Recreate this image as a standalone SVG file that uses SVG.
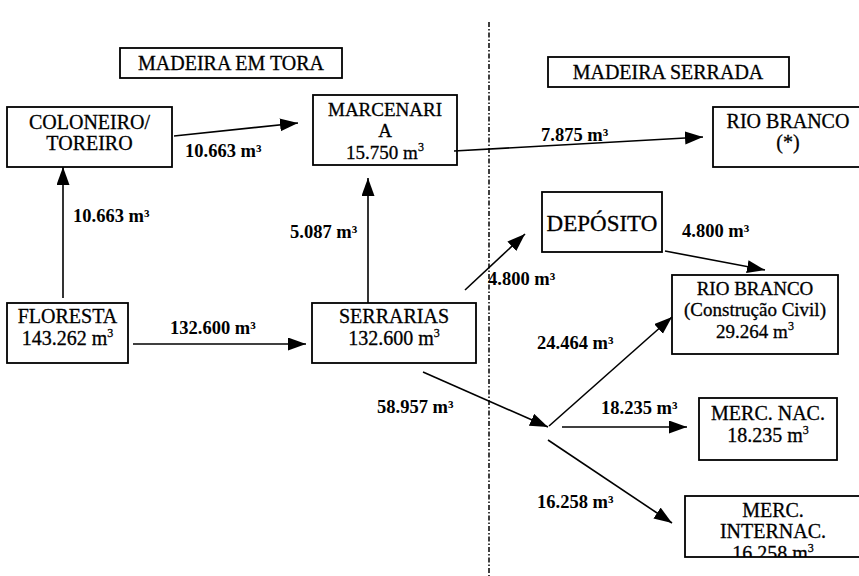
<svg xmlns="http://www.w3.org/2000/svg" width="859" height="576" viewBox="0 0 859 576">
<style>
.box{fill:#fff;stroke:#000;stroke-width:1.8}
.t{font-family:"Liberation Serif","Times New Roman",serif;font-size:20px;fill:#000;stroke:#000;stroke-width:0.3;text-anchor:middle}
.s19{font-size:19px}
.big{font-size:23px}
.lbl{font-family:"Liberation Serif","Times New Roman",serif;font-size:18.5px;font-weight:bold;fill:#000}
.sup{font-size:12px}
.c{stroke:#000;stroke-width:1.6;fill:none;marker-end:url(#ah)}
.div{stroke:#000;stroke-width:1.5;stroke-dasharray:5 2 1.5 2;fill:none}
</style>
<defs>
<marker id="ah" markerUnits="userSpaceOnUse" markerWidth="20" markerHeight="14" refX="18" refY="6.5" orient="auto">
<path d="M0,0 L18,6.5 L0,13 z" fill="#000"/>
</marker>
<clipPath id="clipInt"><rect x="680" y="490" width="179" height="67"/></clipPath>
</defs>
<rect width="859" height="576" fill="#fff"/>
<line class="div" x1="489" y1="22" x2="489" y2="576"/>
<g id="madeira-em-tora">
<rect class="box" x="120" y="48" width="222" height="30"/>
<text class="t" x="231" y="70">MADEIRA EM TORA</text>
</g>
<g id="madeira-serrada">
<rect class="box" x="548" y="57" width="241" height="30"/>
<text class="t" x="668" y="79">MADEIRA SERRADA</text>
</g>
<g id="coloneiro">
<rect class="box" x="7" y="107" width="165" height="60"/>
<text class="t" x="89.5" y="129">COLONEIRO/</text>
<text class="t" x="89.5" y="150">TOREIRO</text>
</g>
<g id="marcenaria">
<rect class="box" x="313" y="95" width="144" height="70"/>
<text class="t s19" x="385" y="116">MARCENARI</text>
<text class="t s19" x="385" y="137">A</text>
<text class="t s19" x="385" y="159">15.750 m<tspan class="sup" dy="-8">3</tspan></text>
</g>
<g id="rio-branco">
<rect class="box" x="713" y="107" width="150" height="60"/>
<text class="t" x="788" y="128">RIO BRANCO</text>
<text class="t" x="788" y="149">(*)</text>
</g>
<g id="floresta">
<rect class="box" x="7" y="303" width="121" height="60"/>
<text class="t" x="67.5" y="323">FLORESTA</text>
<text class="t" x="67.5" y="345">143.262 m<tspan class="sup" dy="-8">3</tspan></text>
</g>
<g id="serrarias">
<rect class="box" x="312" y="303" width="164" height="60"/>
<text class="t" x="394" y="323">SERRARIAS</text>
<text class="t" x="394" y="345">132.600 m<tspan class="sup" dy="-8">3</tspan></text>
</g>
<g id="deposito">
<rect class="box" x="542" y="192" width="120" height="60"/>
<text class="t big" x="602" y="231">DEPÓSITO</text>
</g>
<g id="rio-branco-cc">
<rect class="box" x="672" y="275" width="166" height="79"/>
<text class="t s19" x="755" y="295">RIO BRANCO</text>
<text class="t s19" x="755" y="316">(Construção Civil)</text>
<text class="t s19" x="755" y="338">29.264 m<tspan class="sup" dy="-8">3</tspan></text>
</g>
<g id="merc-nac">
<rect class="box" x="699" y="398" width="138" height="62"/>
<text class="t" x="768" y="420">MERC. NAC.</text>
<text class="t" x="768" y="442">18.235 m<tspan class="sup" dy="-8">3</tspan></text>
</g>
<g id="merc-internac">
<rect class="box" x="685" y="496" width="180" height="61"/>
<text class="t" x="773" y="517">MERC.</text>
<text class="t" x="773" y="538">INTERNAC.</text>
<text class="t" x="773" y="560" clip-path="url(#clipInt)">16.258 m<tspan class="sup" dy="-8">3</tspan></text>
</g>
<g id="connectors">
<line class="c" x1="174" y1="136" x2="298" y2="123"/>
<line class="c" x1="63" y1="298" x2="63" y2="167"/>
<line class="c" x1="454" y1="151" x2="703" y2="137"/>
<line class="c" x1="133" y1="344" x2="306" y2="344"/>
<line class="c" x1="368" y1="303" x2="368" y2="178"/>
<line class="c" x1="465" y1="290" x2="525" y2="234"/>
<line class="c" x1="665" y1="251" x2="765" y2="270"/>
<line class="c" x1="423" y1="372" x2="548" y2="427"/>
<line class="c" x1="549" y1="426" x2="672" y2="317"/>
<line class="c" x1="562" y1="427" x2="687" y2="427"/>
<line class="c" x1="548" y1="440" x2="672" y2="523"/>
</g>
<g id="labels">
<text class="lbl" x="185" y="157">10.663 m³</text>
<text class="lbl" x="73" y="222">10.663 m³</text>
<text class="lbl" x="290" y="238">5.087 m³</text>
<text class="lbl" x="541" y="141">7.875 m³</text>
<text class="lbl" x="170" y="334">132.600 m³</text>
<text class="lbl" x="682" y="237">4.800 m³</text>
<text class="lbl" x="488" y="285">4.800 m³</text>
<text class="lbl" x="537" y="349">24.464 m³</text>
<text class="lbl" x="377" y="413">58.957 m³</text>
<text class="lbl" x="601" y="414">18.235 m³</text>
<text class="lbl" x="537" y="508">16.258 m³</text>
</g>
</svg>
